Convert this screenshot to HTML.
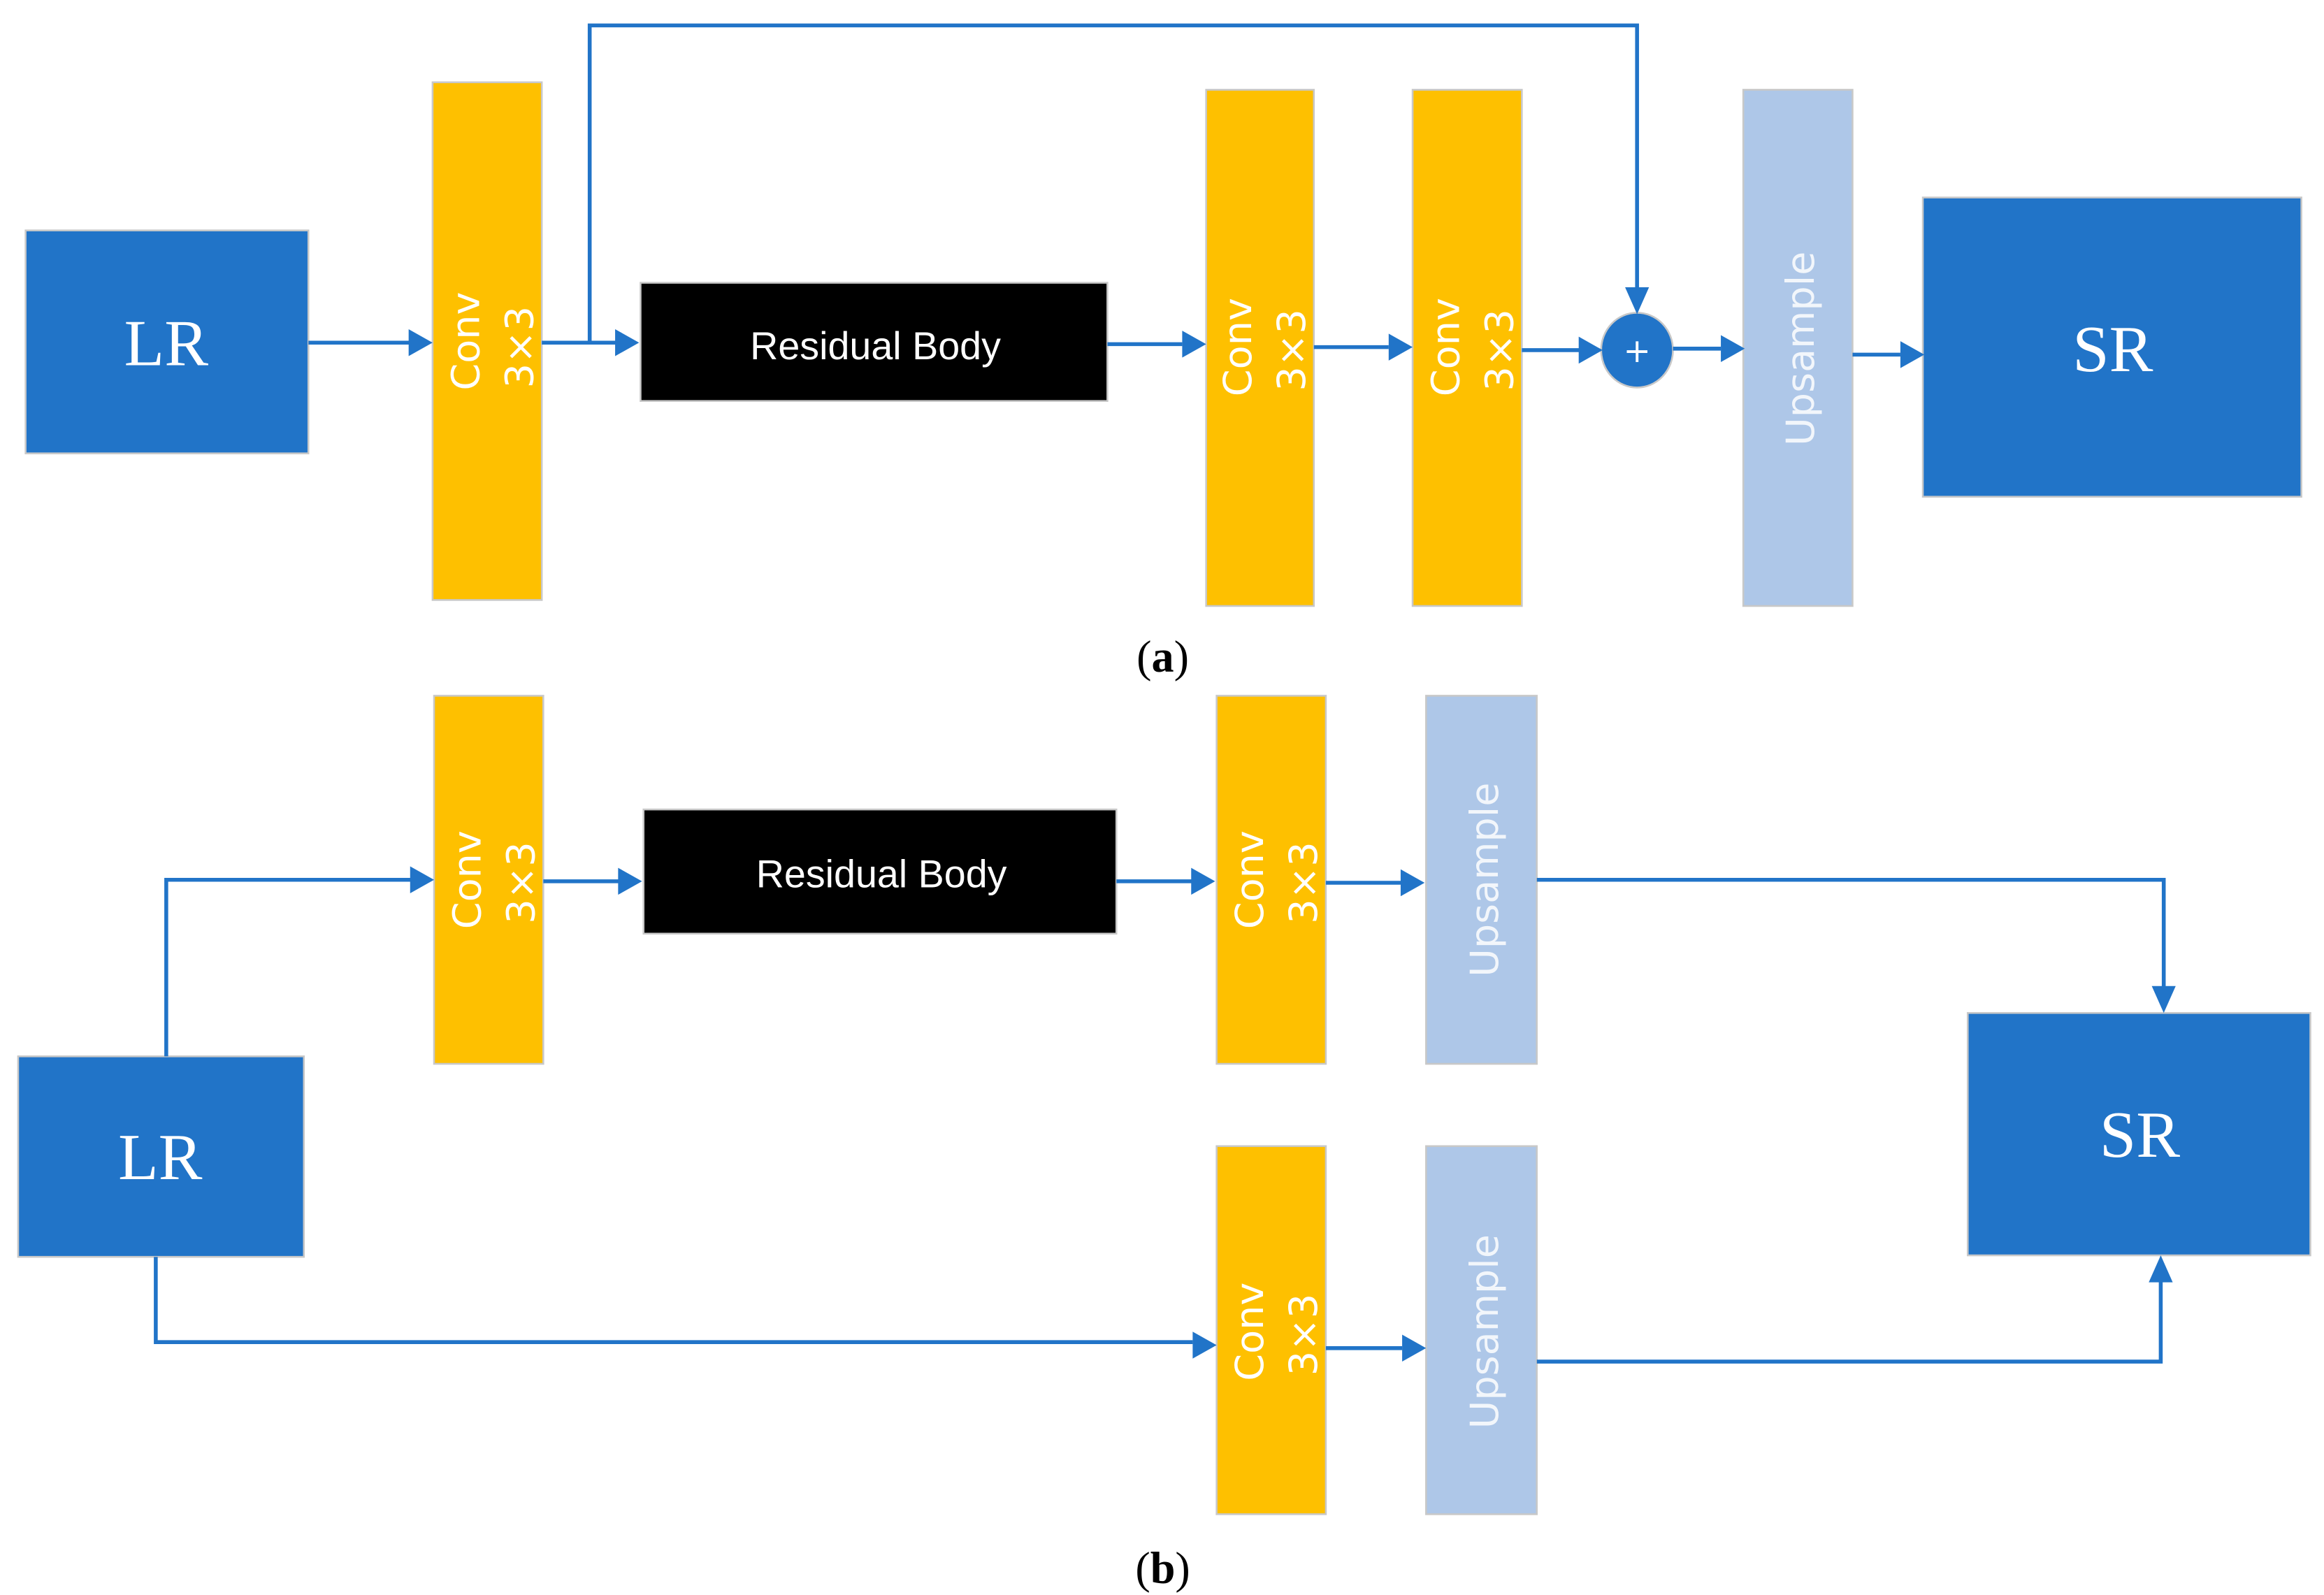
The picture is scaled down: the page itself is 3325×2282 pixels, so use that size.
<!DOCTYPE html>
<html><head><meta charset="utf-8"><style>
html,body{margin:0;padding:0;background:#fff;}
svg{display:block;}
</style></head><body>
<svg width="3325" height="2282" viewBox="0 0 1553 1066" xmlns="http://www.w3.org/2000/svg">
<style>
.b{fill:#2174c8;stroke:#c8c8c8;stroke-width:1.2}
.y{fill:#fec000;stroke:#c8c8c8;stroke-width:1.2}
.u{fill:#aec7e8;stroke:#c8c8c8;stroke-width:1.2}
.k{fill:#000;stroke:#c8c8c8;stroke-width:1.2}
.l{stroke:#2174c8;stroke-width:2.6;fill:none}
.a{fill:#2174c8}
.s{font-family:"Liberation Serif",serif;fill:#fff;font-size:44px;text-anchor:middle}
.c{font-family:"DejaVu Sans","Liberation Sans",sans-serif;fill:#fff;font-size:26px;text-anchor:middle}
.r{font-family:"Liberation Sans",sans-serif;fill:#fff;font-size:26px;text-anchor:middle}
.t{font-family:"Liberation Serif",serif;fill:#000;font-size:30px;text-anchor:middle}
</style>

<!-- (a) -->
<rect class="b" x="17" y="154" width="189" height="149"/>
<text class="s" x="111" y="244">LR</text>
<rect class="y" x="289" y="55" width="73" height="346"/>
<text class="c" transform="translate(320,228) rotate(-90)">Conv</text>
<text class="c" transform="translate(356,232) rotate(-90)">3×3</text>
<rect class="k" x="428" y="189" width="312" height="79"/>
<text class="r" x="585" y="240">Residual Body</text>
<rect class="y" x="806" y="60" width="72" height="345"/>
<text class="c" transform="translate(836,232) rotate(-90)">Conv</text>
<text class="c" transform="translate(872,234) rotate(-90)">3×3</text>
<rect class="y" x="944" y="60" width="73" height="345"/>
<text class="c" transform="translate(975,232) rotate(-90)">Conv</text>
<text class="c" transform="translate(1011,234) rotate(-90)">3×3</text>
<rect class="u" x="1165" y="60" width="73" height="345"/>
<text class="c" transform="translate(1212,233) rotate(-90)" style="fill:#f2f6fb">Upsample</text>
<rect class="b" x="1285" y="132" width="253" height="200"/>
<text class="s" x="1412" y="248">SR</text>
<ellipse class="b" cx="1094" cy="234" rx="24" ry="25"/>
<text x="1094" y="242" style="font-family:'DejaVu Sans',sans-serif;font-size:22px;fill:#fff;text-anchor:middle">+</text>

<g class="l">
<path d="M206 229H276"/>
<path d="M362 229H412"/>
<path d="M394 229V17H1094V194"/>
<path d="M740 230H790"/>
<path d="M878 232H928"/>
<path d="M1017 234H1056"/>
<path d="M1118 233H1150"/>
<path d="M1238 237H1270"/>
</g>
<g class="a">
<path d="M289 229l-16 -9v18z"/>
<path d="M427 229l-16 -9v18z"/>
<path d="M806 230l-16 -9v18z"/>
<path d="M944 232l-16 -9v18z"/>
<path d="M1071 234l-16 -9v18z"/>
<path d="M1166 233l-16 -9v18z"/>
<path d="M1286 237l-16 -9v18z"/>
<path d="M1094 210l-8 -18h16z"/>
</g>
<text class="t" x="777" y="449"><tspan>(</tspan><tspan font-weight="bold">a</tspan><tspan>)</tspan></text>

<!-- (b) -->
<rect class="y" x="290" y="465" width="73" height="246"/>
<text class="c" transform="translate(321,588) rotate(-90)">Conv</text>
<text class="c" transform="translate(357,590) rotate(-90)">3×3</text>
<rect class="k" x="430" y="541" width="316" height="83"/>
<text class="r" x="589" y="593">Residual Body</text>
<rect class="y" x="813" y="465" width="73" height="246"/>
<text class="c" transform="translate(844,588) rotate(-90)">Conv</text>
<text class="c" transform="translate(880,590) rotate(-90)">3×3</text>
<rect class="u" x="953" y="465" width="74" height="246"/>
<text class="c" transform="translate(1001,588) rotate(-90)" style="fill:#f2f6fb">Upsample</text>
<rect class="b" x="12" y="706" width="191" height="134"/>
<text class="s" x="107" y="788">LR</text>
<rect class="b" x="1315" y="677" width="229" height="162"/>
<text class="s" x="1430" y="773">SR</text>
<rect class="y" x="813" y="766" width="73" height="246"/>
<text class="c" transform="translate(844,890) rotate(-90)">Conv</text>
<text class="c" transform="translate(880,892) rotate(-90)">3×3</text>
<rect class="u" x="953" y="766" width="74" height="246"/>
<text class="c" transform="translate(1001,890) rotate(-90)" style="fill:#f2f6fb">Upsample</text>

<g class="l">
<path d="M111 706V588H276"/>
<path d="M363 589H414"/>
<path d="M746 589H797"/>
<path d="M886 590H937"/>
<path d="M1027 588H1446V662"/>
<path d="M104 840V897H797"/>
<path d="M886 901H937"/>
<path d="M1027 910H1444V855"/>
</g>
<g class="a">
<path d="M290 588l-16 -9v18z"/>
<path d="M429 589l-16 -9v18z"/>
<path d="M812 589l-16 -9v18z"/>
<path d="M952 590l-16 -9v18z"/>
<path d="M813 899l-16 -9v18z"/>
<path d="M953 901l-16 -9v18z"/>
<path d="M1446 677l-8 -18h16z"/>
<path d="M1444 839l-8 18h16z"/>
</g>
<text class="t" x="777" y="1058"><tspan>(</tspan><tspan font-weight="bold">b</tspan><tspan>)</tspan></text>
</svg>
</body></html>
